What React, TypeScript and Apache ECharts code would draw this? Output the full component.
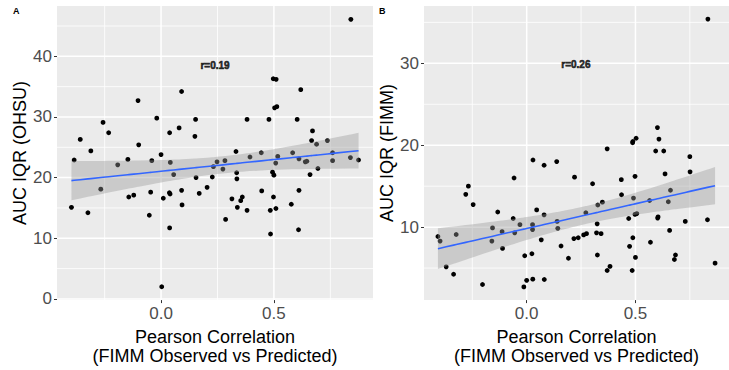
import React, { useEffect, useRef } from "react";
import * as echarts from "echarts";

// Panel A: Pearson correlation (FIMM observed vs predicted) vs AUC IQR (OHSU)
const xA = [0.841, -0.385, -0.358, -0.311, -0.257, -0.232, -0.192, -0.147, -0.102, -0.099, -0.041, -0.019, 0.0, 0.038, 0.041, 0.056, 0.08, 0.091, 0.153, 0.15, 0.155, 0.227, 0.232, 0.248, 0.274, 0.283, 0.332, 0.335, 0.336, 0.381, 0.394, 0.444, 0.478, 0.494, 0.5, 0.497, 0.51, 0.503, 0.513, 0.508, 0.517, 0.583, 0.603, 0.611, 0.619, 0.639, 0.646, 0.66, 0.667, 0.671, 0.689, 0.695, 0.737, 0.76, 0.76, 0.839, 0.875, -0.397, -0.324, -0.267, -0.143, -0.121, -0.046, -0.052, 0.01, 0.003, 0.037, 0.04, 0.038, 0.091, 0.093, 0.169, 0.204, 0.286, 0.314, 0.338, 0.353, 0.36, 0.381, 0.446, 0.484, 0.485, 0.498, 0.509, 0.577, 0.609, 0.611];
const yA = [46.1, 22.9, 26.3, 24.4, 29.1, 27.4, 22.1, 23.0, 32.7, 25.4, 22.8, 29.8, 23.8, 27.4, 22.5, 20.5, 28.2, 34.2, 29.6, 26.8, 20.0, 20.1, 21.8, 22.6, 21.4, 22.8, 24.3, 20.8, 19.8, 29.6, 23.4, 24.1, 29.6, 20.9, 20.4, 36.3, 36.2, 31.5, 31.7, 22.4, 23.5, 24.1, 29.6, 23.1, 34.5, 22.6, 22.7, 20.5, 26.1, 27.7, 25.5, 21.5, 26.1, 24.1, 22.8, 23.3, 22.9, 15.1, 14.2, 18.1, 16.8, 17.1, 17.6, 13.8, 16.6, 2.0, 17.5, 17.3, 11.7, 17.9, 15.5, 17.4, 18.4, 13.1, 16.5, 15.1, 16.2, 16.8, 14.6, 17.8, 14.6, 10.7, 16.8, 14.9, 15.6, 11.4, 17.9];

// Panel B: Pearson correlation vs AUC IQR (FIMM)
const xB = [0.833, -0.058, 0.029, 0.08, 0.138, 0.22, 0.37, 0.435, 0.487, 0.488, 0.503, 0.498, 0.593, 0.601, 0.608, 0.63, 0.636, 0.75, 0.751, -0.268, -0.28, -0.246, 0.303, 0.436, 0.491, 0.661, 0.565, 0.651, 0.348, 0.327, -0.408, -0.398, -0.37, -0.336, -0.324, -0.203, -0.16, -0.157, -0.133, -0.113, -0.111, -0.062, -0.055, -0.031, -0.013, -0.009, 0.0, 0.027, 0.027, 0.024, 0.028, 0.046, 0.067, 0.08, 0.081, 0.14, 0.143, 0.158, 0.192, 0.217, 0.237, 0.262, 0.275, 0.272, 0.321, 0.324, 0.325, 0.342, 0.37, 0.383, 0.469, 0.473, 0.485, 0.488, 0.498, 0.506, 0.5, 0.569, 0.602, 0.604, 0.657, 0.679, 0.684, 0.729, 0.831, 0.866];
const yB = [35.4, 16.0, 18.2, 17.55, 18.0, 16.1, 19.56, 15.8, 20.3, 20.45, 20.85, 16.2, 19.3, 22.15, 20.75, 19.3, 16.5, 18.6, 16.75, 15.0, 14.0, 12.75, 15.3, 13.95, 13.55, 14.5, 13.25, 13.1, 13.05, 12.7, 8.85, 8.3, 5.15, 4.25, 9.1, 3.0, 8.3, 9.9, 11.85, 9.45, 7.4, 11.05, 9.3, 10.3, 2.7, 6.5, 3.5, 10.3, 9.7, 6.75, 3.65, 12.1, 8.45, 11.5, 3.6, 10.7, 9.85, 7.7, 6.2, 8.6, 8.7, 9.05, 9.2, 11.75, 9.3, 10.4, 6.6, 9.2, 4.7, 5.2, 11.05, 7.65, 4.7, 8.7, 11.55, 11.65, 6.3, 8.15, 11.1, 11.25, 9.6, 6.05, 6.6, 10.7, 10.9, 5.6];

// Tick positions
const xTicks = [0, 0.5];
const xMinor = [-0.25, 0.25, 0.75];
const yTicksA = [0, 10, 20, 30, 40];
const yMinorA = [5, 15, 25, 35, 45];
const yTicksB = [10, 20, 30];
const yMinorB = [5, 15, 25, 35];

const annotA = { x: 0.239, y: 38.5, text: "r=0.19" };
const annotB = { x: 0.226, y: 29.8, text: "r=0.26" };

const xTitle = "Pearson Correlation\n(FIMM Observed vs Predicted)";
const yTitleA = "AUC IQR (OHSU)";
const yTitleB = "AUC IQR (FIMM)";

const FONT = "'Liberation Sans', Arial, Helvetica, sans-serif";

function fit(xs: number[], ys: number[]) {
  const n = xs.length;
  const mx = xs.reduce((s, v) => s + v, 0) / n;
  const my = ys.reduce((s, v) => s + v, 0) / n;
  let sxx = 0, sxy = 0;
  for (let i = 0; i < n; i++) {
    sxx += (xs[i] - mx) ** 2;
    sxy += (xs[i] - mx) * (ys[i] - my);
  }
  const b = sxy / sxx;
  const a = my - b * mx;
  let sse = 0;
  for (let i = 0; i < n; i++) sse += (ys[i] - a - b * xs[i]) ** 2;
  const s = Math.sqrt(sse / (n - 2));
  const t = 1.988;
  const sorted = Array.from(new Set(xs)).sort((p, q) => p - q);
  const line = sorted.map((x) => [x, a + b * x]);
  const upper = sorted.map((x) => [x, a + b * x + t * s * Math.sqrt(1 / n + (x - mx) ** 2 / sxx)]);
  const lower = sorted.map((x) => [x, a + b * x - t * s * Math.sqrt(1 / n + (x - mx) ** 2 / sxx)]);
  return { line, upper, lower };
}

function gridSeries(idx: number, xs: number[], xsMinor: number[], ys: number[], ysMinor: number[]) {
  return {
    type: "custom",
    xAxisIndex: idx,
    yAxisIndex: idx,
    z: 1,
    silent: true,
    data: [[0.2, 15]],
    renderItem: (params: any, api: any) => {
      const cs = params.coordSys;
      const children: any[] = [];
      const mk = (v: number, vertical: boolean, w: number) => {
        if (vertical) {
          const px = api.coord([v, ys[1]])[0];
          children.push({ type: "line", shape: { x1: px, y1: cs.y, x2: px, y2: cs.y + cs.height }, style: { stroke: "#FFFFFF", lineWidth: w } });
        } else {
          const py = api.coord([xs[0], v])[1];
          children.push({ type: "line", shape: { x1: cs.x, y1: py, x2: cs.x + cs.width, y2: py }, style: { stroke: "#FFFFFF", lineWidth: w } });
        }
      };
      xsMinor.forEach((v) => mk(v, true, 0.8));
      ysMinor.forEach((v) => mk(v, false, 0.8));
      xs.forEach((v) => mk(v, true, 1.5));
      ys.forEach((v) => mk(v, false, 1.5));
      return { type: "group", children };
    },
  };
}

function bandSeries(idx: number, upper: number[][], lower: number[][]) {
  return {
    type: "custom",
    xAxisIndex: idx,
    yAxisIndex: idx,
    z: 3,
    silent: true,
    data: [[upper[0][0], upper[0][1]]],
    renderItem: (params: any, api: any) => {
      const pts = upper.map((p) => api.coord(p)).concat(lower.slice().reverse().map((p) => api.coord(p)));
      return { type: "polygon", shape: { points: pts }, style: { fill: "rgba(153,153,153,0.4)" } };
    },
  };
}

function xAxisCfg(idx: number, min: number, max: number) {
  return {
    type: "value",
    gridIndex: idx,
    min,
    max,
    axisLine: { show: false, onZero: false },
    axisTick: { show: true, length: 3, lineStyle: { color: "#333333", width: 1 }, customValues: xTicks },
    axisLabel: { customValues: xTicks, formatter: (v: number) => v.toFixed(1), color: "#4D4D4D", fontSize: 17, fontFamily: FONT, margin: 5 },
    splitLine: { show: false },
    name: xTitle,
    nameLocation: "middle",
    nameGap: 21,
    nameTextStyle: { color: "#000000", fontSize: 18, fontFamily: FONT, lineHeight: 19 },
  };
}

function yAxisCfg(idx: number, min: number, max: number, ticks: number[], title: string) {
  return {
    type: "value",
    gridIndex: idx,
    min,
    max,
    axisLine: { show: false, onZero: false },
    axisTick: { show: true, length: 3, lineStyle: { color: "#333333", width: 1 }, customValues: ticks },
    axisLabel: { customValues: ticks, formatter: (v: number) => String(v), color: "#4D4D4D", fontSize: 17, fontFamily: FONT, margin: 5 },
    splitLine: { show: false },
    name: title,
    nameLocation: "middle",
    nameGap: 25,
    nameTextStyle: { color: "#000000", fontSize: 18, fontFamily: FONT },
  };
}

export default function App() {
  const ref = useRef<HTMLDivElement>(null);
  useEffect(() => {
    if (!ref.current) return;
    const chart = echarts.init(ref.current, undefined, { renderer: "svg" });
    const fA = fit(xA, yA);
    const fB = fit(xB, yB);
    const scatter = (idx: number, xs: number[], ys: number[]) => ({
      type: "scatter",
      xAxisIndex: idx,
      yAxisIndex: idx,
      z: 2,
      symbolSize: 4.8,
      itemStyle: { color: "#000000", opacity: 1 },
      data: xs.map((x, i) => [x, ys[i]]),
    });
    const fitLine = (idx: number, line: number[][]) => ({
      type: "line",
      xAxisIndex: idx,
      yAxisIndex: idx,
      z: 4,
      showSymbol: false,
      symbol: "none",
      lineStyle: { color: "#3366FF", width: 1.6 },
      data: line,
    });
    const annot = (idx: number, a: { x: number; y: number; text: string }) => ({
      type: "scatter",
      xAxisIndex: idx,
      yAxisIndex: idx,
      z: 5,
      symbolSize: 0,
      data: [[a.x, a.y]],
      label: { show: true, position: "inside", formatter: a.text, color: "#000000", fontSize: 10, fontWeight: 900, fontFamily: FONT, textBorderColor: "#000000", textBorderWidth: 0.6 },
    });
    chart.setOption({
      animation: false,
      backgroundColor: "#FFFFFF",
      grid: [
        { left: 57, top: 6, width: 316, height: 299, show: true, backgroundColor: "#EBEBEB", borderWidth: 0 },
        { left: 424, top: 6, width: 316, height: 299, show: true, backgroundColor: "#EBEBEB", borderWidth: 0 },
      ],
      xAxis: [xAxisCfg(0, -0.461, 0.939), xAxisCfg(1, -0.472, 0.93)],
      yAxis: [yAxisCfg(0, -0.2, 48.3, yTicksA, yTitleA), yAxisCfg(1, 1.09, 37.0, yTicksB, yTitleB)],
      graphic: [
        { type: "text", left: 13, top: 6, style: { text: "A", fontSize: 9, fontWeight: "bold", fontFamily: FONT, fill: "#000" } },
        { type: "text", left: 379, top: 6, style: { text: "B", fontSize: 9, fontWeight: "bold", fontFamily: FONT, fill: "#000" } },
      ],
      series: [
        gridSeries(0, xTicks, xMinor, yTicksA, yMinorA),
        gridSeries(1, xTicks, xMinor, yTicksB, yMinorB),
        scatter(0, xA, yA),
        scatter(1, xB, yB),
        bandSeries(0, fA.upper, fA.lower),
        bandSeries(1, fB.upper, fB.lower),
        fitLine(0, fA.line),
        fitLine(1, fB.line),
        annot(0, annotA),
        annot(1, annotB),
      ],
    });
    return () => chart.dispose();
  }, []);
  return <div ref={ref} style={{ position: "fixed", left: 0, top: 0, width: 729, height: 370 }} />;
}
